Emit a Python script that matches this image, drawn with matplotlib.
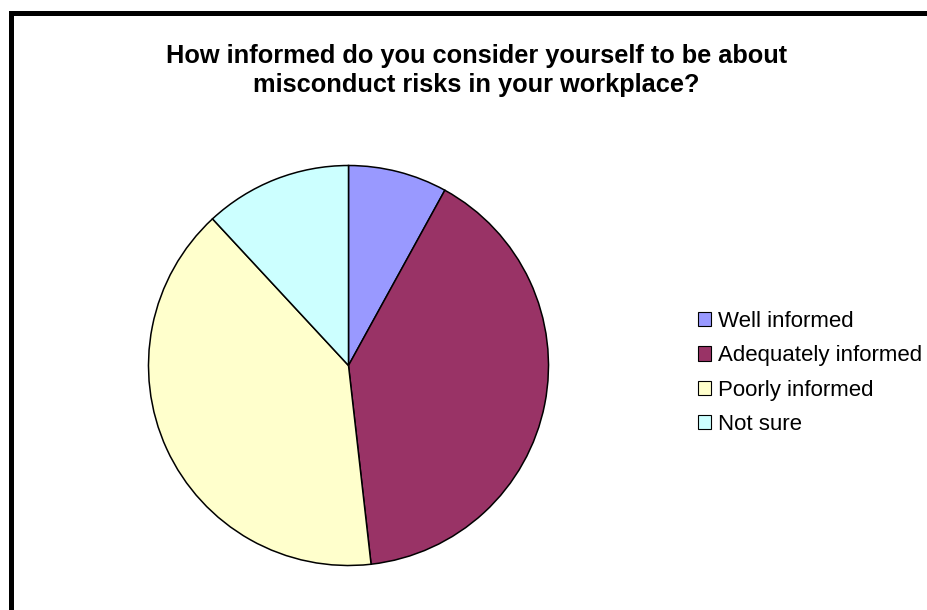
import matplotlib.pyplot as plt
from matplotlib.patches import Rectangle, Patch

plt.rcParams['font.family'] = ['Liberation Sans', 'DejaVu Sans']

labels = ["Well informed", "Adequately informed", "Poorly informed", "Not sure"]
shares = [8.0, 40.2, 39.9, 11.9]
colors = ["#9999FF", "#993366", "#FFFFCC", "#CCFFFF"]

W, H = 928, 610
fig = plt.figure(figsize=(W / 100, H / 100), dpi=100)

# chart frame: only the top and left edges are visible inside the image
fig.patches.append(Rectangle((11.5 / W, -0.2), 1.5, (H - 12.5) / H + 0.2,
                             transform=fig.transFigure, fill=False,
                             edgecolor="black", linewidth=3.6, zorder=10))

fig.text(476.5 / W, 1 - 70.5 / H,
         "How informed do you consider yourself to be about\nmisconduct risks in your workplace?",
         ha="center", va="center", fontsize=18.3, fontweight="bold",
         linespacing=1.26)

cx, cy, r = 348.5, 365.5, 202
ax = fig.add_axes([(cx - r) / W, (H - cy - r) / H, 2 * r / W, 2 * r / H])
ax.pie(shares, colors=colors, startangle=90, counterclock=False,
       wedgeprops=dict(edgecolor="black", linewidth=1.1))
ax.set_xlim(-1.01, 1.01)
ax.set_ylim(-1.01, 1.01)
ax.set_aspect("equal")
ax.axis("off")

handles = [Patch(facecolor=c, edgecolor="black", linewidth=0.8) for c in colors]
fig.legend(handles, labels, loc="center left", bbox_to_anchor=(689 / W, 1 - 373 / H),
           frameon=False, fontsize=16, handlelength=0.6, handleheight=0.6,
           handletextpad=0.3, labelspacing=0.6, borderaxespad=0)

fig.savefig("out.png", dpi=100)
